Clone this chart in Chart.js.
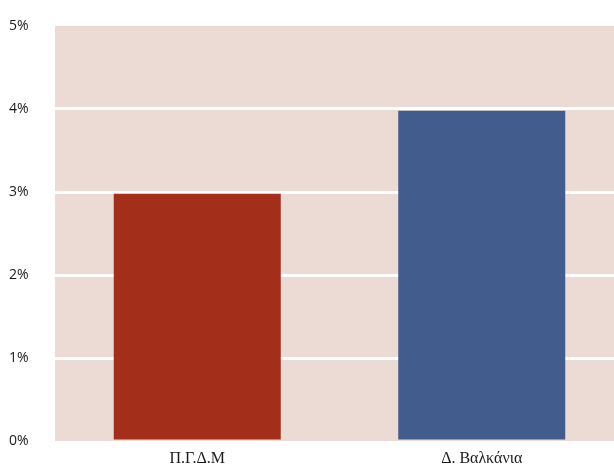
<!DOCTYPE html>
<html>
<head>
<meta charset="utf-8">
<script src="https://cdn.jsdelivr.net/npm/chart.js@4"></script>
<style>
  html, body { margin: 0; padding: 0; background: #ffffff; overflow: hidden; }
  #wrap { width: 624px; height: 466px; position: relative; }
</style>
</head>
<body>
<div id="wrap"><canvas id="c"></canvas></div>
<script>
// Regions compared
const categories = ['Π.Γ.Δ.Μ', 'Δ. Βαλκάνια'];
// Share (%) per region
const values = [2.98, 3.98];
const barColors = ['#A32F1A', '#425C8D'];
// Y axis tick values (%)
const yTicks = [0, 1, 2, 3, 4, 5];

// Shade the plotting area before anything else is drawn
const plotBackground = {
  id: 'plotBackground',
  beforeDraw(chart) {
    const { ctx, chartArea: a } = chart;
    ctx.save();
    ctx.fillStyle = '#ECDBD5';
    ctx.fillRect(a.left, a.top, a.right - a.left, a.bottom - a.top);
    ctx.restore();
  }
};

new Chart(document.getElementById('c'), {
  type: 'bar',
  data: {
    labels: categories,
    datasets: [{
      data: values,
      backgroundColor: barColors,
      borderWidth: 0,
      categoryPercentage: 1.0,
      barPercentage: 0.587
    }]
  },
  options: {
    responsive: true,
    maintainAspectRatio: false,
    animation: false,
    layout: { padding: { left: 9, top: 26, right: 0, bottom: 0 } },
    plugins: {
      legend: { display: false },
      tooltip: { enabled: false }
    },
    scales: {
      x: {
        grid: { display: false, drawTicks: false },
        border: { display: false },
        ticks: {
          color: '#1a1a1a',
          font: { family: '"Liberation Serif", "DejaVu Serif", serif', size: 16 },
          padding: 8
        },
        afterFit(scale) { scale.height = 25; }
      },
      y: {
        min: 0,
        max: 5,
        afterBuildTicks(scale) { scale.ticks = yTicks.map(v => ({ value: v })); },
        grid: {
          drawTicks: false,
          lineWidth: 3,
          color: ctx => (ctx.tick && (ctx.tick.value === 0 || ctx.tick.value === 5)) ? 'rgba(0,0,0,0)' : '#ffffff'
        },
        border: { display: false },
        ticks: {
          color: '#1a1a1a',
          font: { family: '"Open Sans", sans-serif', size: 14 },
          crossAlign: 'far',
          padding: 4,
          callback: v => v + '%'
        },
        afterFit(scale) { scale.width = 46; }
      }
    }
  },
  plugins: [plotBackground]
});
</script>
</body>
</html>
